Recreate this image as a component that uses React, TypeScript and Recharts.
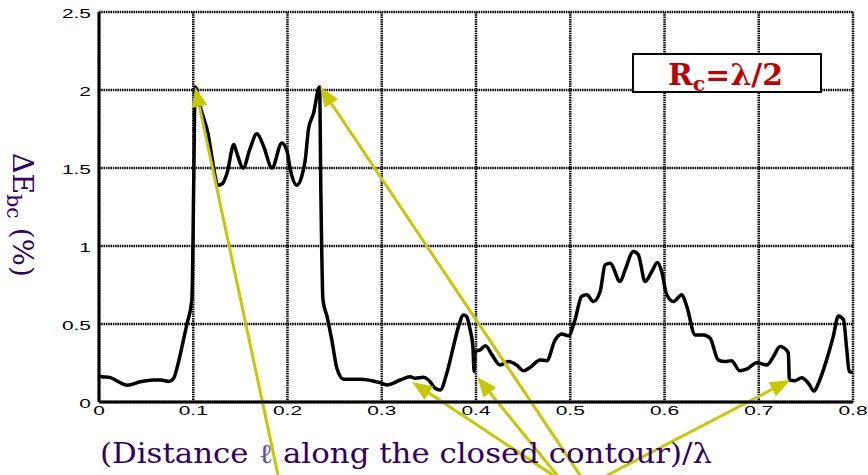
import React from 'react';
import { LineChart, Line, XAxis, YAxis, CartesianGrid, ReferenceLine } from 'recharts';

// distance along the contour (in units of lambda)
const distance = [
  0, 0.003, 0.012, 0.019, 0.03, 0.044, 0.058, 0.066, 0.074, 0.079,
  0.0845, 0.089, 0.0933, 0.0986, 0.1005, 0.102, 0.108, 0.1145, 0.127, 0.131,
  0.136, 0.143, 0.146, 0.153, 0.16, 0.1676, 0.1746, 0.1835, 0.194, 0.1994,
  0.203, 0.21, 0.2153, 0.2188, 0.2223, 0.2276, 0.234, 0.2355, 0.2376, 0.242,
  0.247, 0.2524, 0.2595, 0.277, 0.298, 0.3055, 0.3196, 0.33, 0.3355, 0.3443,
  0.3496, 0.3567, 0.362, 0.369, 0.376, 0.3814, 0.3867, 0.39, 0.3938, 0.3967,
  0.398, 0.399, 0.4044, 0.41, 0.417, 0.4256, 0.4345, 0.443, 0.4504, 0.4575,
  0.468, 0.475, 0.484, 0.491, 0.498, 0.505, 0.512, 0.5176, 0.5246, 0.5317,
  0.537, 0.5423, 0.553, 0.5582, 0.567, 0.5723, 0.5794, 0.5865, 0.5925, 0.597,
  0.6024, 0.6095, 0.6184, 0.6237, 0.6325, 0.6413, 0.6484, 0.657, 0.664, 0.671,
  0.68, 0.687, 0.698, 0.7085, 0.7155, 0.7226, 0.7314, 0.7325, 0.7385, 0.7457,
  0.7527, 0.7587, 0.7633, 0.772, 0.779, 0.7845, 0.79, 0.7934, 0.796, 0.8,
];

// Delta E_bc (%)
const deltaE = [
  0.165, 0.162, 0.156, 0.135, 0.108, 0.13, 0.141, 0.141, 0.132, 0.15,
  0.26, 0.38, 0.5, 0.66, 1.4, 2.02, 1.88, 1.75, 1.39, 1.4,
  1.47, 1.65, 1.6, 1.5, 1.62, 1.72, 1.64, 1.5, 1.66, 1.61,
  1.49, 1.39, 1.45, 1.55, 1.75, 1.85, 2.02, 1.3, 0.655, 0.548,
  0.398, 0.216, 0.146, 0.146, 0.124, 0.109, 0.141, 0.162, 0.152, 0.158,
  0.141, 0.088, 0.077, 0.184, 0.355, 0.483, 0.558, 0.548, 0.462, 0.355,
  0.195, 0.323, 0.334, 0.36, 0.302, 0.237, 0.259, 0.237, 0.2, 0.222,
  0.27, 0.265, 0.398, 0.436, 0.424, 0.526, 0.676, 0.687, 0.644, 0.708,
  0.879, 0.89, 0.772, 0.847, 0.965, 0.943, 0.772, 0.836, 0.894, 0.836,
  0.687, 0.644, 0.687, 0.612, 0.43, 0.43, 0.409, 0.27, 0.259, 0.265,
  0.2, 0.21, 0.252, 0.237, 0.29, 0.355, 0.316, 0.141, 0.137, 0.156,
  0.12, 0.07, 0.12, 0.27, 0.419, 0.552, 0.526, 0.334, 0.195, 0.19,
];

const xTicks = [0, 0.1, 0.2, 0.3, 0.4, 0.5, 0.6, 0.7, 0.8];
const yTicks = [0, 0.5, 1, 1.5, 2, 2.5];

// arrow annotations: tail (below the axis) -> tip (on the curve)
const arrowTails = [
  { x: 0.19, y: -0.47 },
  { x: 0.5105, y: -0.47 },
  { x: 0.4819, y: -0.47 },
  { x: 0.4861, y: -0.47 },
  { x: 0.5391, y: -0.47 },
];
const arrowTips = [
  { x: 0.1021, y: 2.02 },
  { x: 0.2347, y: 2.02 },
  { x: 0.3323, y: 0.128 },
  { x: 0.4013, y: 0.16 },
  { x: 0.7333, y: 0.141 },
];

const data = distance.map((d, i) => ({ d, e: deltaE[i] }));

const ARROW = '#c8c800';
const PURPLE = '#330066';

const Arrow = (props: any) => {
  const { x1, y1, x2, y2 } = props;
  const dx = x2 - x1;
  const dy = y2 - y1;
  const len = Math.sqrt(dx * dx + dy * dy);
  const ux = dx / len;
  const uy = dy / len;
  const hl = 20;
  const hw = 8;
  const bx = x2 - ux * hl;
  const by = y2 - uy * hl;
  const pts = `${x2},${y2} ${bx - uy * hw},${by + ux * hw} ${bx + uy * hw},${by - ux * hw}`;
  return (
    <g>
      <line x1={x1} y1={y1} x2={bx} y2={by} stroke={ARROW} strokeWidth={3} />
      <polygon points={pts} fill={ARROW} />
    </g>
  );
};

const tickStyle = {
  fontFamily: 'Liberation Sans, Arial, sans-serif',
  fontSize: 13.5,
  fill: '#000',
};

const XTick = ({ x, y, payload }: any) => (
  <text transform={`translate(${x},${y + 5}) scale(1.55,1)`} textAnchor="middle" {...tickStyle}>
    {payload.value}
  </text>
);

const YTick = ({ x, y, payload }: any) => (
  <text transform={`translate(${x},${y + 6}) scale(1.55,1)`} textAnchor="end" {...tickStyle}>
    {payload.value}
  </text>
);

export default function App() {
  return (
    <div style={{ position: 'absolute', left: 0, top: 0, width: 868, height: 475 }}>
      <LineChart
        width={868}
        height={475}
        data={data}
        margin={{ top: 12, right: 15, bottom: 43, left: 0 }}
      >
        <CartesianGrid stroke="#000" strokeWidth={2.5} strokeDasharray="1.5 0.8" />
        <XAxis
          dataKey="d"
          type="number"
          domain={[0, 0.8]}
          ticks={xTicks}
          height={30}
          tickLine={false}
          axisLine={{ stroke: '#000', strokeWidth: 3 }}
          tick={<XTick />}
        />
        <YAxis
          type="number"
          domain={[0, 2.5]}
          ticks={yTicks}
          width={99}
          tickLine={false}
          axisLine={{ stroke: '#000', strokeWidth: 3 }}
          tick={<YTick />}
        />
        <Line
          type="monotone"
          dataKey="e"
          stroke="#000"
          strokeWidth={3.5}
          dot={false}
          isAnimationActive={false}
        />
        {arrowTips.map((tip, i) => (
          <ReferenceLine
            key={i}
            segment={[arrowTails[i], tip]}
            ifOverflow="visible"
            shape={Arrow}
          />
        ))}
      </LineChart>
      <svg
        width={868}
        height={475}
        style={{ position: 'absolute', left: 0, top: 0, pointerEvents: 'none' }}
      >
        <text
          x={100}
          y={463}
          fontFamily="DejaVu Serif"
          fontSize={27}
          fill={PURPLE}
          textLength={612}
          lengthAdjust="spacingAndGlyphs"
        >
          (Distance <tspan fill="#6b4f9a">ℓ</tspan> along the closed contour)/λ
        </text>
        <text
          transform="translate(13,153) rotate(90)"
          fontFamily="DejaVu Serif"
          fontSize={28}
          fill={PURPLE}
          textLength={124}
          lengthAdjust="spacingAndGlyphs"
        >
          ΔE
          <tspan fontSize={20} dy={6}>bc</tspan>
          <tspan dy={-6}>{'  (%)'}</tspan>
        </text>
        <rect x={633} y={54} width={188} height={38} fill="#fff" stroke="#000" strokeWidth={2} />
        <text
          x={668}
          y={85}
          fontFamily="DejaVu Serif"
          fontWeight="bold"
          fontSize={29}
          fill="#c00000"
          textLength={115}
          lengthAdjust="spacingAndGlyphs"
        >
          R<tspan fontSize={20} dy={6}>c</tspan>
          <tspan dy={-6}>=λ/2</tspan>
        </text>
      </svg>
    </div>
  );
}
